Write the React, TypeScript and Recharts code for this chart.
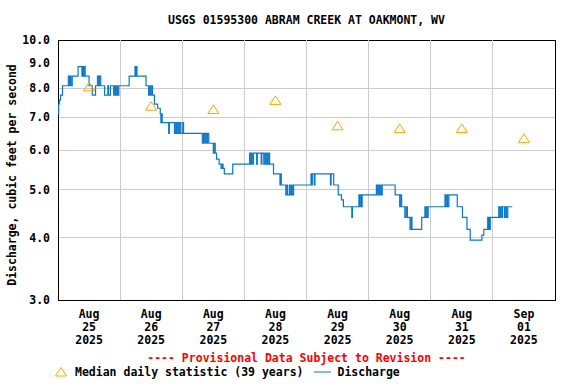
import {
  ComposedChart,
  Line,
  Scatter,
  XAxis,
  YAxis,
  CartesianGrid,
  ReferenceLine,
  ReferenceArea,
} from "recharts";

// hours since Aug 25 2025 00:00, discharge in ft3/s
const discharge: [number, number][] = [
  [0, 7.1], [0.25, 7.43], [0.5, 7.57], [1, 7.75], [1.75, 8.09], [4, 8.46], [4.5, 8.09],
  [4.75, 8.46], [5, 8.09], [5.5, 8.46], [7.75, 8.84], [9.25, 8.46], [9.5, 8.84], [9.75, 8.46],
  [10, 8.84], [10.5, 8.46], [12, 8.09], [13.25, 7.75], [14.5, 8.09], [15.25, 8.46], [15.75, 8.09],
  [16, 8.46], [16.5, 8.09], [18, 7.75], [19.25, 8.09], [19.5, 7.75], [20.25, 8.09], [21.5, 7.75],
  [21.75, 8.09], [22.25, 7.75], [22.75, 8.09], [23, 7.75], [23.5, 8.09], [27.5, 8.46], [29.75, 8.84],
  [30, 8.46], [30.25, 8.84], [30.5, 8.46], [34, 8.09], [35, 7.75], [35.5, 8.09], [35.75, 7.75],
  [36, 8.09], [36.5, 7.75], [37.25, 7.43], [38.5, 7.29], [39.5, 7.1], [39.75, 6.82], [40, 7.1],
  [40.25, 6.82], [42.75, 6.49], [43, 6.82], [45, 6.49], [45.5, 6.82], [45.75, 6.49], [46.25, 6.82],
  [46.5, 6.49], [47, 6.82], [47.5, 6.49], [48.25, 6.82], [48.5, 6.49], [55.75, 6.2], [56.25, 6.49],
  [56.75, 6.2], [57, 6.49], [57.5, 6.2], [57.75, 6.49], [58.25, 6.2], [60, 5.92], [60.25, 6.2],
  [60.75, 5.92], [61.25, 5.76], [62.25, 5.63], [63, 5.52], [63.5, 5.63], [63.75, 5.52], [64.25, 5.38],
  [67.5, 5.63], [74, 5.92], [74.25, 5.63], [74.75, 5.92], [75, 5.63], [75.5, 5.92], [76.75, 5.63],
  [77, 5.92], [78.5, 5.63], [78.75, 5.92], [79.5, 5.63], [80, 5.92], [80.25, 5.63], [80.75, 5.92],
  [81, 5.63], [81.5, 5.92], [81.75, 5.63], [83.25, 5.38], [85.75, 5.11], [86, 5.38], [86.25, 5.11],
  [88, 4.88], [88.5, 5.11], [88.75, 4.88], [89.5, 5.11], [89.75, 4.88], [90.25, 5.11], [90.5, 4.88],
  [91, 5.11], [97.75, 5.38], [98, 5.11], [98.25, 5.38], [99, 5.11], [99.25, 5.38], [105.25, 5.11],
  [105.5, 5.38], [106.5, 5.11], [108.25, 4.88], [109.5, 4.77], [110.25, 4.62], [113.5, 4.4],
  [113.75, 4.62], [116.25, 4.88], [116.5, 4.62], [117, 4.88], [117.25, 4.62], [117.5, 4.88],
  [123, 5.11], [123.5, 4.88], [123.75, 5.11], [124.25, 4.88], [124.75, 5.11], [125, 4.88],
  [125.25, 5.11], [130.25, 4.88], [132, 4.62], [132.5, 4.88], [132.75, 4.62], [134, 4.4],
  [134.5, 4.62], [135, 4.4], [136, 4.16], [136.5, 4.4], [136.75, 4.16], [140.5, 4.4], [141.75, 4.62],
  [142, 4.4], [142.5, 4.62], [142.75, 4.4], [143, 4.62], [149.5, 4.88], [149.75, 4.62], [150.25, 4.88],
  [150.5, 4.62], [151, 4.88], [154.25, 4.62], [156.25, 4.4], [158, 4.16], [159.25, 3.96],
  [163.75, 4.05], [164.5, 4.16], [166, 4.4], [166.25, 4.16], [166.5, 4.4], [166.75, 4.16], [167, 4.4],
  [170.25, 4.62], [170.75, 4.4], [171, 4.62], [171.5, 4.4], [171.75, 4.62], [172.5, 4.4],
  [172.75, 4.62], [173.25, 4.4], [173.75, 4.62], [175.5, 4.62],
];

// median daily statistic, plotted at noon of each day
const medianHours = [12, 36, 60, 84, 108, 132, 156, 180];
const medianCfs = [8.05, 7.36, 7.25, 7.56, 6.72, 6.64, 6.64, 6.34];

const tickMonths = ["Aug", "Aug", "Aug", "Aug", "Aug", "Aug", "Aug", "Sep"];
const tickDays = ["25", "26", "27", "28", "29", "30", "31", "01"];
const tickYears = ["2025", "2025", "2025", "2025", "2025", "2025", "2025", "2025"];
const midnights = [24, 48, 72, 96, 120, 144, 168];
const yTicks = [3, 4, 5, 6, 7, 8, 9, 10];

const FONT = "'DejaVu Sans Mono', monospace";
const BLUE = "#0a78c8";
const ORANGE = "#ffa500";

const lineData = discharge.map(([t, q]) => ({ t, q }));
const medianData = medianHours.map((t, i) => ({ t, q: medianCfs[i] }));

const DayTick = ({ x, y, payload }: any) => {
  const i = medianHours.indexOf(payload.value);
  if (i < 0) return null;
  return (
    <text x={x} y={y} textAnchor="middle" fontFamily={FONT} fontWeight="bold" fontSize={11.5} fill="#000">
      <tspan x={x} dy={10}>{tickMonths[i]}</tspan>
      <tspan x={x} dy={13}>{tickDays[i]}</tspan>
      <tspan x={x} dy={13}>{tickYears[i]}</tspan>
    </text>
  );
};

const Triangle = ({ cx, cy }: any) => (
  <polygon
    points={`${cx},${cy - 4.5} ${cx - 5.5},${cy + 4} ${cx + 5.5},${cy + 4}`}
    fill="none"
    stroke={ORANGE}
    strokeWidth={1}
  />
);

const textStyle: React.CSSProperties = {
  position: "absolute",
  fontFamily: FONT,
  fontWeight: "bold",
  fontSize: 11.5,
  lineHeight: "14px",
  whiteSpace: "nowrap",
  color: "#000",
};

export default function App() {
  return (
    <div style={{ position: "fixed", left: 0, top: 0, width: 576, height: 384, background: "#fff" }}>
      <ComposedChart width={576} height={384} margin={{ top: 40, right: 21, bottom: 0, left: 0 }}>
        <CartesianGrid stroke="#cccccc" vertical={false} shapeRendering="crispEdges" />
        {midnights.map((m) => (
          <ReferenceLine key={m} x={m} stroke="#cccccc" shapeRendering="crispEdges" />
        ))}
        <XAxis
          dataKey="t"
          type="number"
          domain={[0, 192]}
          ticks={medianHours}
          tick={<DayTick />}
          tickLine={false}
          axisLine={false}
          height={84}
          allowDataOverflow
        />
        <YAxis
          dataKey="q"
          type="number"
          scale="log"
          domain={[3, 10]}
          ticks={yTicks}
          tickFormatter={(v: number) => v.toFixed(1)}
          tickLine={false}
          axisLine={false}
          width={58}
          allowDataOverflow
          tick={{ fill: "#000", fontFamily: FONT, fontWeight: "bold", fontSize: 11.5 }}
        />
        <ReferenceArea
          x1={0}
          x2={192}
          y1={3}
          y2={10}
          fill="none"
          fillOpacity={0}
          stroke="#000"
          strokeWidth={1}
          shapeRendering="crispEdges"
        />
        <Line
          data={lineData}
          dataKey="q"
          type="stepAfter"
          stroke={BLUE}
          strokeWidth={1.2}
          dot={false}
          isAnimationActive={false}
        />
        <Scatter data={medianData} dataKey="q" shape={<Triangle />} isAnimationActive={false} />
      </ComposedChart>

      <div style={{ ...textStyle, left: 58, width: 497, top: 13, textAlign: "center" }}>
        USGS 01595300 ABRAM CREEK AT OAKMONT, WV
      </div>
      <div
        style={{
          ...textStyle,
          left: 12 - 150,
          top: 175 - 7,
          width: 300,
          textAlign: "center",
          transform: "rotate(-90deg)",
        }}
      >
        Discharge, cubic feet per second
      </div>
      <div style={{ ...textStyle, left: 58, width: 497, top: 351, textAlign: "center", color: "#ff0000" }}>
        ---- Provisional Data Subject to Revision ----
      </div>
      <div style={{ ...textStyle, left: 54, top: 365, display: "flex", alignItems: "center" }}>
        <svg width={14} height={12} style={{ marginRight: 7 }}>
          <polygon points="7,1.5 1.5,10 12.5,10" fill="none" stroke={ORANGE} strokeWidth={1} />
        </svg>
        <span>Median daily statistic (39 years)</span>
        <svg width={34} height={12}>
          <line x1={11} y1={6} x2={28} y2={6} stroke={BLUE} strokeWidth={1} />
        </svg>
        <span>Discharge</span>
      </div>
    </div>
  );
}
